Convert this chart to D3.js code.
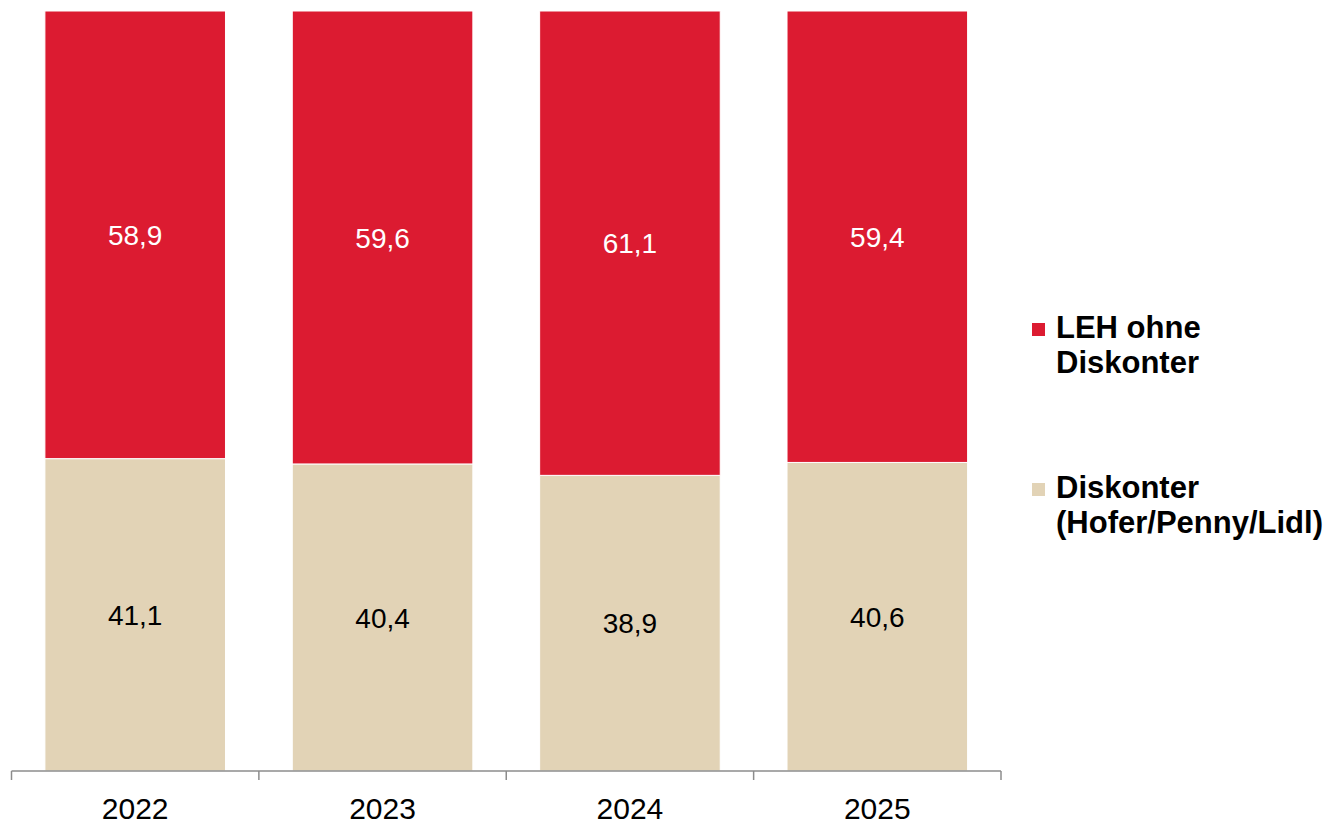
<!DOCTYPE html>
<html>
<head>
<meta charset="utf-8">
<script src="https://cdn.jsdelivr.net/npm/d3@7"></script>
<style>
  body { margin: 0; background: #fff; }
  text { font-family: Arial, 'Liberation Sans', sans-serif; }
</style>
</head>
<body>
<div id="chart"></div>
<script>
// data
const years = ['2022', '2023', '2024', '2025']
const lehOhneDiskonter = [58.9, 59.6, 61.1, 59.4]
const diskonter = [41.1, 40.4, 38.9, 40.6]

const seriesKeys = ['diskonter', 'leh']
const seriesNames = {
  leh: ['LEH ohne', 'Diskonter'],
  diskonter: ['Diskonter', '(Hofer/Penny/Lidl)']
}
const colors = { leh: '#dc1b31', diskonter: '#e2d3b6' }
const labelColors = { leh: '#fff', diskonter: '#000' }

const width = 1335, height = 825
const axisY = 771, topY = 11

const svg = d3.select('#chart').append('svg')
  .attr('width', width).attr('height', height)

const rows = years.map((y, i) => ({ year: y, leh: lehOhneDiskonter[i], diskonter: diskonter[i] }))
const stacked = d3.stack().keys(seriesKeys)(rows)

const x = d3.scaleBand()
  .domain(years)
  .range([11.5, 1001])
  .paddingInner(0.27)
  .paddingOuter(0.135)

const y = d3.scaleLinear()
  .domain([0, 100])
  .range([axisY, topY])

// bars
const layer = svg.selectAll('g.layer')
  .data(stacked)
  .join('g')
  .attr('class', 'layer')
  .attr('fill', d => colors[d.key])

layer.selectAll('rect')
  .data(d => d)
  .join('rect')
  .attr('x', d => x(d.data.year))
  .attr('width', x.bandwidth())
  .attr('y', d => y(d[1]))
  .attr('height', d => y(d[0]) - y(d[1]))
  .attr('stroke', '#fff')
  .attr('stroke-width', 1)

// value labels
stacked.forEach(s => {
  svg.append('g').selectAll('text')
    .data(s)
    .join('text')
    .attr('x', d => x(d.data.year) + x.bandwidth() / 2)
    .attr('y', d => (y(d[0]) + y(d[1])) / 2)
    .attr('dy', '0.36em')
    .attr('text-anchor', 'middle')
    .attr('font-size', 28)
    .attr('fill', labelColors[s.key])
    .text(d => d.data[s.key].toFixed(1).replace('.', ','))
})

// x axis: ticks at band boundaries
const gAxis = svg.append('g')
const edges = [x.range()[0]].concat(years.map(yr => x(yr) + x.bandwidth() + x.step() * x.paddingInner() / 2))
edges[edges.length - 1] = x.range()[1]
gAxis.append('line')
  .attr('x1', x.range()[0]).attr('x2', x.range()[1])
  .attr('y1', axisY).attr('y2', axisY)
  .attr('stroke', '#8c8c8c').attr('stroke-width', 1.5)
gAxis.selectAll('line.tick')
  .data(edges)
  .join('line')
  .attr('class', 'tick')
  .attr('x1', d => d).attr('x2', d => d)
  .attr('y1', axisY).attr('y2', axisY + 9)
  .attr('stroke', '#8c8c8c').attr('stroke-width', 1.5)
gAxis.selectAll('text')
  .data(years)
  .join('text')
  .attr('x', d => x(d) + x.bandwidth() / 2)
  .attr('y', 818.5)
  .attr('text-anchor', 'middle')
  .attr('font-size', 30)
  .attr('fill', '#000')
  .text(d => d)

// legend
const legendItems = [
  { key: 'leh', y: 338 },
  { key: 'diskonter', y: 498 }
]
const legend = svg.append('g')
legendItems.forEach(item => {
  legend.append('rect')
    .attr('x', 1032).attr('y', item.y - 15)
    .attr('width', 13).attr('height', 13)
    .attr('fill', colors[item.key])
  const t = legend.append('text')
    .attr('x', 1056).attr('y', item.y)
    .attr('font-size', 31)
    .attr('font-weight', 'bold')
    .attr('fill', '#000')
  seriesNames[item.key].forEach((line, i) => {
    t.append('tspan')
      .attr('x', 1056)
      .attr('dy', i === 0 ? 0 : 35)
      .text(line)
  })
})
</script>
</body>
</html>
